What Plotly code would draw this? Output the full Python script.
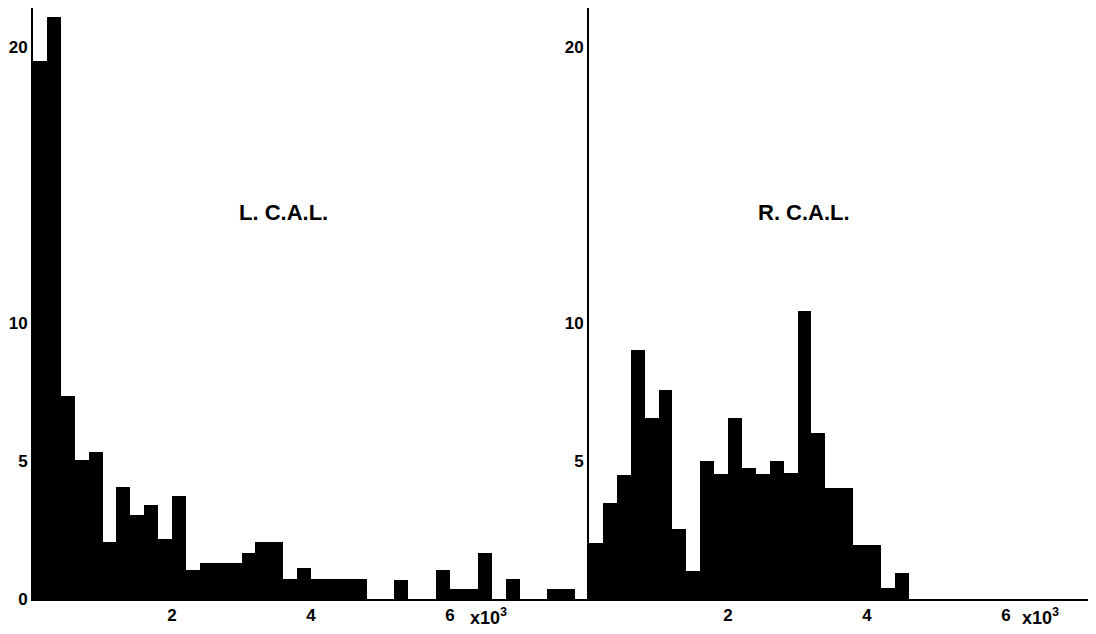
import plotly.graph_objects as go

# ---- data ----
BIN_WIDTH = 0.2  # in thousands

left_values = [19.5, 21.1, 7.35, 5.04, 5.33, 2.07, 4.06, 3.05, 3.4, 2.17,
               3.73, 1.05, 1.3, 1.3, 1.3, 1.67, 2.07, 2.07, 0.72, 1.12,
               0.72, 0.72, 0.72, 0.72, 0.0, 0.0, 0.69, 0.0, 0.0, 1.05,
               0.36, 0.36, 1.67, 0.0, 0.72, 0.0, 0.0, 0.36, 0.36]

right_values = [2.03, 3.48, 4.5, 9.02, 6.56, 7.57, 2.54, 1.01, 5.0, 4.53,
                6.56, 4.73, 4.53, 5.0, 4.57, 10.43, 6.02, 4.03, 4.03, 1.97,
                1.97, 0.4, 0.94]

left_yticks = [0, 5, 10, 20]
right_yticks = [5, 10, 20]
xticks = [2, 4, 6]
left_label = "L. C.A.L."
right_label = "R. C.A.L."
multiplier = "x10<sup>3</sup>"

left_x = [i * BIN_WIDTH + BIN_WIDTH / 2 for i in range(len(left_values))]
right_x = [i * BIN_WIDTH + BIN_WIDTH / 2 for i in range(len(right_values))]

FONT = "Liberation Sans"
W, H = 1096, 634
OFF = 8  # page body margin

fig = go.Figure()
fig.add_trace(go.Bar(x=left_x, y=left_values, width=BIN_WIDTH,
                     marker=dict(color="black", line=dict(width=0)),
                     xaxis="x", yaxis="y", showlegend=False, hoverinfo="skip"))
fig.add_trace(go.Bar(x=right_x, y=right_values, width=BIN_WIDTH,
                     marker=dict(color="black", line=dict(width=0)),
                     xaxis="x2", yaxis="y2", showlegend=False, hoverinfo="skip"))

px_per_k = 69.5
px_per_unit = 27.6
base_px = 599 - OFF
left0, split, right0 = 33 - OFF, 588 - OFF, 589 - OFF

tickfont = dict(family=FONT, size=17, color="black", weight="bold")
yrange = [0, base_px / px_per_unit]
ydom = [(H - base_px) / H, 1]

common_x = dict(showgrid=False, zeroline=False, showline=True, linecolor="black",
                linewidth=2, ticks="", tickvals=xticks, tickfont=tickfont,
                automargin=False)
common_y = dict(showgrid=False, zeroline=False, showline=True, linecolor="black",
                linewidth=2, ticks="", tickfont=tickfont, range=yrange, domain=ydom,
                automargin=False)

fig.update_layout(
    width=W, height=H,
    margin=dict(l=0, r=0, t=0, b=0),
    paper_bgcolor="white", plot_bgcolor="white",
    bargap=0,
    xaxis=dict(domain=[left0 / W, split / W], range=[0, (split - left0) / px_per_k],
               anchor="y", **common_x),
    yaxis=dict(anchor="x", tickvals=left_yticks, **common_y),
    xaxis2=dict(domain=[right0 / W, 1], range=[0, (W - right0) / px_per_k],
                anchor="y2", **common_x),
    yaxis2=dict(anchor="x2", tickvals=right_yticks, **common_y),
)

label_font = dict(family=FONT, size=22, color="black", weight="bold")
fig.add_annotation(text=left_label, x=3.6, y=14.0, xref="x", yref="y",
                   showarrow=False, font=label_font)
fig.add_annotation(text=right_label, x=3.1, y=14.0, xref="x2", yref="y2",
                   showarrow=False, font=label_font)

mult_font = dict(family=FONT, size=18, color="black", weight="bold")
mult_y = (H - (616 - OFF)) / H
fig.add_annotation(text=multiplier, x=6.56, y=mult_y, xref="x", yref="paper",
                   yanchor="middle", showarrow=False, font=mult_font)
fig.add_annotation(text=multiplier, x=6.5, y=mult_y, xref="x2", yref="paper",
                   yanchor="middle", showarrow=False, font=mult_font)

fig.write_html("out.html")
